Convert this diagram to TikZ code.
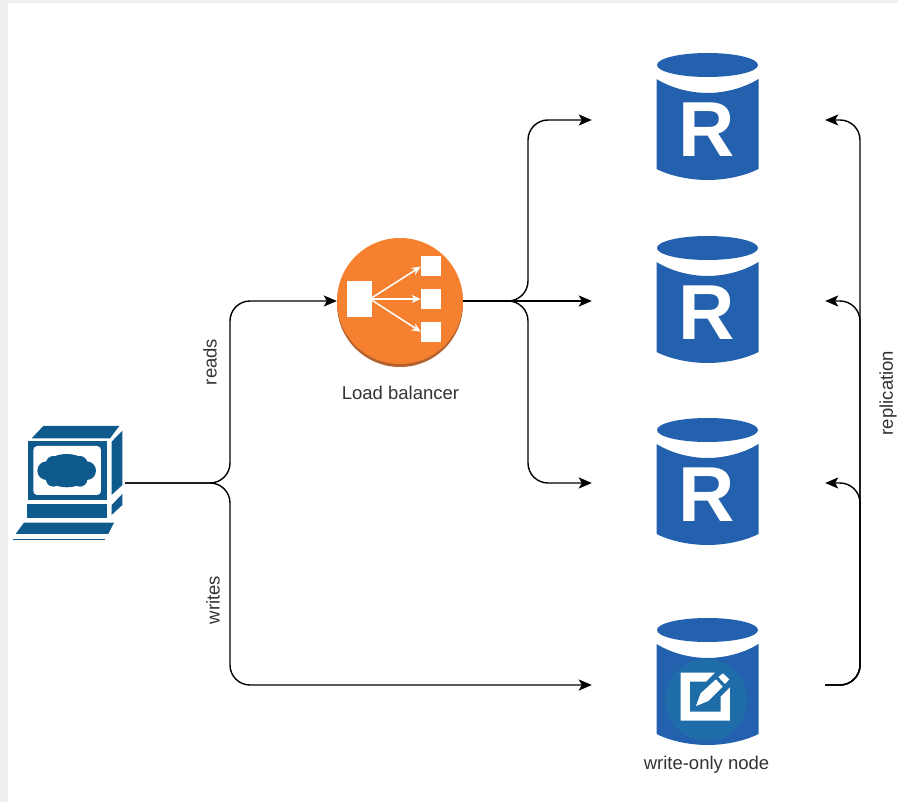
\documentclass[tikz,border=0pt]{standalone}
\usepackage{fontspec}
\setmainfont{Liberation Sans}
\usetikzlibrary{arrows.meta}
\definecolor{pagegray}{HTML}{EDEEF0}
\definecolor{pcblue}{HTML}{0F5A8C}
\definecolor{dbblue}{HTML}{2361AE}
\definecolor{discblue}{HTML}{1F6DA8}
\definecolor{lborange}{HTML}{F58030}
\definecolor{lbdark}{HTML}{B5622E}
\definecolor{labelgray}{HTML}{333333}
\tikzset{
  conn/.style={draw=black,line width=1.4pt,rounded corners=20pt,-{Stealth[length=13pt,width=11pt,inset=3pt]}},
  hitbox/.style={minimum width=233pt,minimum height=126pt,inner sep=0pt},
  lbl/.style={font=\fontsize{18.5}{22}\selectfont,text=labelgray,inner sep=0pt},
  rlabel/.style={font=\fontsize{78}{80}\selectfont\bfseries,text=white,inner sep=0pt},
  dbicon/.pic={
    \fill[dbblue] (-50.5,0) arc[start angle=180,end angle=-180,x radius=50.5,y radius=12];
    \fill[dbblue] (-51,14) .. controls (-35,24) and (-15,28) .. (0,28) .. controls (15,28) and (35,24) .. (51,14)
      -- (51,104) .. controls (35,112) and (15,115) .. (0,115) .. controls (-15,115) and (-35,112) .. (-51,104) -- cycle;
  },
  lbarrow/.style={white,line width=1.5pt,-{Stealth[length=9pt,width=8pt]}}
}
\begin{document}
\begin{tikzpicture}[x=1pt,y=-1pt]
\useasboundingbox (0,0) rectangle (898,802);
\fill[white] (0,0) rectangle (898,802);
\fill[pagegray] (0,0) rectangle (898,3);
\fill[pagegray] (0,0) rectangle (8,802);

% computer
\begin{scope}[shift={(0,410)},x=0.3333pt,y=-0.3333pt]
  \fill[pcblue] (95,85) -- (130,48) -- (358,48) -- (330,85) -- cycle;
  \fill[pcblue] (83,92) rectangle (320,270);
  \fill[white,rounded corners=4pt] (100,108) rectangle (303,255);
  \fill[pcblue] (335,95) -- (367,62) -- (367,225) -- (335,255) -- cycle;
  \fill[pcblue] (335,285) -- (367,252) -- (367,285) -- (335,315) -- cycle;
  \fill[pcblue] (82,283) rectangle (320,325);
  \fill[pcblue] (47,372) -- (72,338) -- (342,338) -- (325,372) -- cycle;
  \fill[pcblue] (40,386) rectangle (315,391);
  \fill[pcblue] (200,182) ellipse[x radius=72,y radius=50];
  \fill[pcblue] (140,182) circle[radius=28];
  \fill[pcblue] (260,182) circle[radius=28];
  \fill[pcblue] (160,160) circle[radius=22];
  \fill[pcblue] (240,160) circle[radius=22];
  \fill[pcblue] (160,208) circle[radius=22];
  \fill[pcblue] (240,208) circle[radius=22];
\end{scope}
\node[minimum width=110pt,minimum height=122pt,inner sep=0pt] (pc) at (70,483) {};

% load balancer
\fill[lbdark] (400,304) circle[radius=63];
\node[circle,fill=lborange,minimum size=126pt,inner sep=0pt] (lb) at (400,301) {};
\begin{scope}[shift={(320,225)},x=0.3333pt,y=-0.3333pt]
  \fill[white] (82,168) rectangle (155,275);
  \fill[white] (302,92) rectangle (362,152);
  \fill[white] (302,192) rectangle (362,252);
  \fill[white] (302,292) rectangle (362,352);
  \draw[lbarrow] (150,222) -- (302,125);
  \draw[lbarrow] (150,222) -- (302,222);
  \draw[lbarrow] (150,222) -- (302,320);
\end{scope}
\node[lbl] (lblb) at (400.5,393) {Load balancer};

% databases
\pic at (707.5,65) {dbicon};
\pic at (707.5,248) {dbicon};
\pic at (707.5,430) {dbicon};
\pic at (707.5,630) {dbicon};
\node[rlabel] (rt1) at (707,130) {R};
\node[rlabel] (rt2) at (707,313) {R};
\node[rlabel] (rt3) at (707,495) {R};
\node[hitbox] (r1) at (708.5,120) {};
\node[hitbox] (r2) at (708.5,301) {};
\node[hitbox] (r3) at (708.5,483) {};
\node[hitbox] (w) at (708.5,685) {};

% write icon
\begin{scope}[shift={(630,600)},x=0.3333pt,y=-0.3333pt]
  \fill[discblue] (228,300) circle[radius=123];
  \fill[white] (152,218) -- (255,218) -- (228,245) -- (180,245) -- (180,335) -- (272,335) -- (272,290) -- (300,262) -- (300,362) -- (152,362) -- cycle;
  \fill[white] (198,318) -- (212,280) -- (258,238) -- (278,260) -- (235,303) -- cycle;
  \fill[white] (265,231) -- (279,220) -- (298,238) -- (285,252) -- cycle;
\end{scope}
\node[lbl] (lbw) at (706.5,765) {write-only node};

% bus coordinates
\coordinate (busu) at (230,400);
\coordinate (busd) at (230,580);
\coordinate (busr) at (528,210);
\coordinate (busb) at (528,390);
\coordinate (rep1) at (860,210);
\coordinate (rep2) at (860,400);
\coordinate (rep3) at (860,580);

% connectors
\draw[conn] (pc.east) -| (busu) |- (lb.west);
\draw[conn] (pc.east) -| (busd) |- (w.west);
\draw[conn] (lb.east) -| (busr) |- (r1.west);
\draw[conn] (lb.east) -- (r2.west);
\draw[conn] (lb.east) -| (busb) |- (r3.west);
\draw[conn] (w.east) -| (rep1) |- (r1.east);
\draw[conn] (w.east) -| (rep2) |- (r2.east);
\draw[conn] (w.east) -| (rep3) |- (r3.east);

% labels
\node[lbl,rotate=90] (lreads) at (210,362) {reads};
\node[lbl,rotate=90] (lwrites) at (213,600) {writes};
\node[lbl,rotate=90] (lrep) at (888,393) {replication};
\end{tikzpicture}
\end{document}
